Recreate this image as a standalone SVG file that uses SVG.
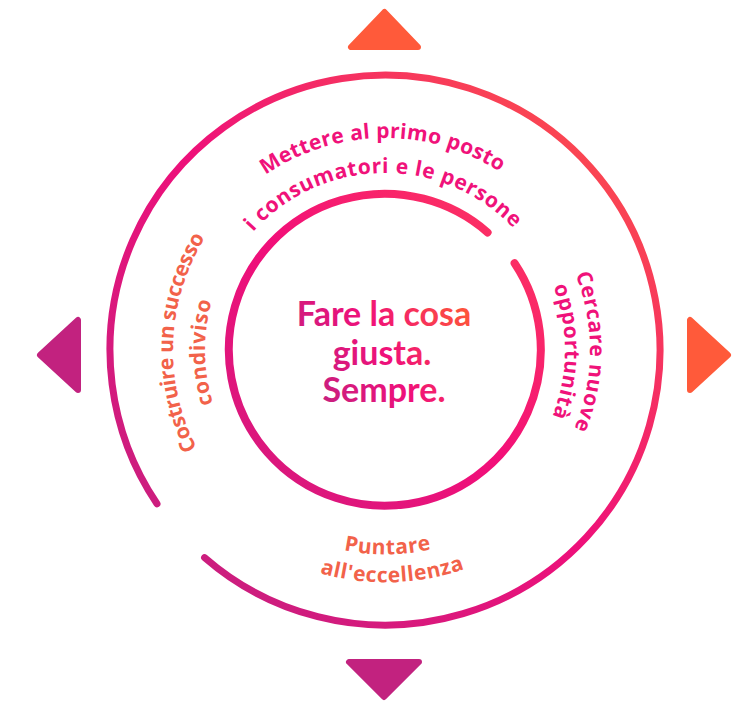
<svg xmlns="http://www.w3.org/2000/svg" width="747" height="702" viewBox="0 0 747 702">
  <defs>
    <style>
      .ring { fill: none; stroke-linecap: round; }
      .tri-o { fill: #FF5A3A; stroke: #FF5A3A; stroke-width: 6; stroke-linejoin: round; }
      .tri-m { fill: #C2227F; stroke: #C2227F; stroke-width: 6; stroke-linejoin: round; }
      .curv { font-family: "Open Sans", Lato, "Liberation Sans", sans-serif; font-weight: 700; font-size: 21px; letter-spacing: 0.6px; }
      .tight { letter-spacing: -0.4px; }
      .mid { letter-spacing: 0.3px; }
      .pink { fill: #F0127A; }
      .salmon { fill: #F2624A; }
      .center { font-family: Lato, "Open Sans", "Liberation Sans", sans-serif; font-weight: 700; font-size: 34px; text-anchor: middle; fill: url(#gText); }
    </style>
    <linearGradient id="gRing" x1="0" y1="1" x2="1" y2="0">
      <stop offset="0" stop-color="#BE2380"/>
      <stop offset="0.5" stop-color="#EE107A"/>
      <stop offset="1" stop-color="#FF5A42"/>
    </linearGradient>
    <linearGradient id="gInner" x1="0" y1="1" x2="1" y2="0">
      <stop offset="0" stop-color="#D21A7E"/>
      <stop offset="0.5" stop-color="#F20F79"/>
      <stop offset="1" stop-color="#FF3A5C"/>
    </linearGradient>
    <linearGradient id="gText" gradientUnits="userSpaceOnUse" x1="300" y1="400" x2="470" y2="300">
      <stop offset="0" stop-color="#BE2380"/>
      <stop offset="0.5" stop-color="#F0107A"/>
      <stop offset="1" stop-color="#FF5A35"/>
    </linearGradient>
    <path id="pTop1" d="M 173 350 A 212 212 0 0 1 597 350"/>
    <path id="pTop2" d="M 208 350 A 177 177 0 0 1 562 350"/>
    <path id="pRight1" d="M 385 145 A 205 205 0 0 1 385 555"/>
    <path id="pRight2" d="M 385 170 A 180 180 0 0 1 385 530"/>
    <path id="pLeft1" d="M 385 562 A 212 212 0 0 1 385 138"/>
    <path id="pLeft2" d="M 385 530 A 180 180 0 0 1 385 170"/>
    <path id="pBot1" d="M 178.8 332 A 207 207 0 0 0 591.2 368"/>
    <path id="pBot2" d="M 147 329.2 A 239 239 0 0 0 623 370.8"/>
  </defs>

  <g id="connectors">
    <path id="ring-outer" class="ring" stroke="url(#gRing)" stroke-width="7" d="M 157 503.8 A 275 275 0 1 1 204.6 557.6"/>
    <path id="ring-inner" class="ring" stroke="url(#gInner)" stroke-width="8" d="M 514.6 263.2 A 156 156 0 1 1 487.6 232.4"/>
  </g>

  <g id="arrow-top"><polygon class="tri-o" points="384.5,12 351,47 418,47"/></g>
  <g id="arrow-right"><polygon class="tri-o" points="690,320 690,390 728,355"/></g>
  <g id="arrow-left"><polygon class="tri-m" points="40,355 78,320 78,390"/></g>
  <g id="arrow-bottom"><polygon class="tri-m" points="349,662 419,662 384,697"/></g>

  <g id="label-top">
    <text class="curv mid pink"><textPath href="#pTop1" startOffset="49.6%" text-anchor="middle">Mettere al primo posto</textPath></text>
    <text class="curv pink"><textPath href="#pTop2" startOffset="49.6%" text-anchor="middle">i consumatori e le persone</textPath></text>
  </g>
  <g id="label-right">
    <text class="curv pink"><textPath href="#pRight1" startOffset="50.3%" text-anchor="middle">Cercare nuove</textPath></text>
    <text class="curv pink"><textPath href="#pRight2" startOffset="50.3%" text-anchor="middle">opportunità</textPath></text>
  </g>
  <g id="label-left">
    <text class="curv tight salmon"><textPath href="#pLeft1" startOffset="51.2%" text-anchor="middle">Costruire un successo</textPath></text>
    <text class="curv salmon"><textPath href="#pLeft2" startOffset="49.6%" text-anchor="middle">condiviso</textPath></text>
  </g>
  <g id="label-bottom">
    <text class="curv salmon"><textPath href="#pBot1" startOffset="53.2%" text-anchor="middle">Puntare</textPath></text>
    <text class="curv salmon"><textPath href="#pBot2" startOffset="53.8%" text-anchor="middle">all'eccellenza</textPath></text>
  </g>

  <g id="center-text">
    <text class="center" x="384" y="326">Fare la cosa</text>
    <text class="center" x="382" y="365">giusta.</text>
    <text class="center" x="384" y="402">Sempre.</text>
  </g>
</svg>
